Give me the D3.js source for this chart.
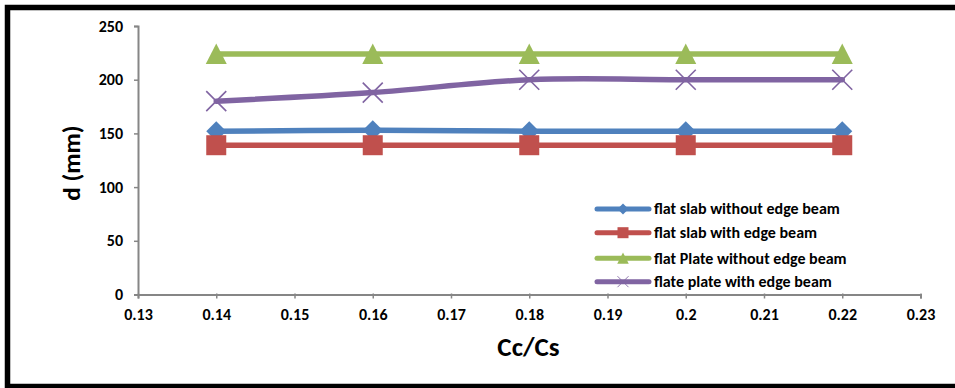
<!DOCTYPE html>
<html><head><meta charset="utf-8">
<script src="https://cdn.jsdelivr.net/npm/d3@7"></script>
<style>body{margin:0;background:#fff;overflow:hidden;} text{font-family:Carlito,Calibri,"Open Sans","Liberation Sans",sans-serif;font-weight:bold;}</style>
</head><body><svg id="c" width="955" height="388"></svg>
<script>
const xValues = [0.14, 0.16, 0.18, 0.2, 0.22];
const seriesNames = ["flat slab without edge beam","flat slab with edge beam","flat Plate without edge beam","flate plate with edge beam"];
const flatSlabNoBeam = [152, 153, 152, 152, 152];
const flatSlabBeam = [139, 139, 139, 139, 139];
const flatPlateNoBeam = [224, 224, 224, 224, 224];
const flatPlateBeam = [180, 188, 200, 200, 200];
const xTicks = [0.13,0.14,0.15,0.16,0.17,0.18,0.19,0.2,0.21,0.22,0.23];
const yTicks = [0,50,100,150,200,250];
const colors = ["#4F81BD","#C0504D","#9BBB59","#8064A2"];
const markers = ["diamond","square","triangle","x"];
const seriesData = [flatSlabNoBeam, flatSlabBeam, flatPlateNoBeam, flatPlateBeam];

const svg = d3.select("#c");
svg.append("rect").attr("x",7.5).attr("y",7.5).attr("width",970).attr("height",379)
  .attr("fill","#fff").attr("stroke","#000").attr("stroke-width",5.5);

const x = d3.scaleLinear().domain([0.13,0.23]).range([138,920.5]);
const y = d3.scaleLinear().domain([0,250]).range([294.5,26]);

const gx = svg.append("g").attr("transform","translate(0,294.5)")
  .call(d3.axisBottom(x).tickValues(xTicks).tickSize(4).tickFormat(d=>d3.format("")(+d.toFixed(2))));
const gy = svg.append("g").attr("transform","translate(138,0)")
  .call(d3.axisLeft(y).tickValues(yTicks).tickSize(4));
[gx,gy].forEach(g=>{
  g.select(".domain").attr("stroke","#868686").attr("stroke-width",2);
  g.selectAll(".tick line").attr("stroke","#868686").attr("stroke-width",1.5);
  g.selectAll("text").attr("fill","#000").attr("font-size",16).style("font-weight","bold");
});
gx.selectAll(".tick line").attr("y1",-1).attr("y2",4);
gx.selectAll("text").attr("y",25).attr("dy",null);
gy.selectAll("text").attr("x",-15);

svg.append("text").attr("transform","translate(80,163) rotate(-90)").attr("text-anchor","middle")
  .attr("font-size",25).text("d (mm)");
svg.append("text").attr("x",528.5).attr("y",356).attr("text-anchor","middle")
  .attr("font-size",27).text("Cc/Cs");

const line = d3.line().x((d,i)=>x(xValues[i])).y(d=>y(d)).curve(d3.curveCardinal.tension(0));

function drawMarker(g, type, cx, cy, color, scale){
  scale = scale||1;
  if(type==="diamond"){
    const s=10*scale;
    g.append("path").attr("d",`M${cx},${cy-s}L${cx+s},${cy}L${cx},${cy+s}L${cx-s},${cy}Z`).attr("fill",color);
  } else if(type==="square"){
    const s=10*scale;
    g.append("rect").attr("x",cx-s).attr("y",cy-s).attr("width",2*s).attr("height",2*s).attr("fill",color);
  } else if(type==="triangle"){
    const s=10.5*scale;
    g.append("path").attr("d",`M${cx},${cy-s}L${cx+s},${cy+s*0.95}L${cx-s},${cy+s*0.95}Z`).attr("fill",color);
  } else {
    const s=10*scale;
    g.append("path").attr("d",`M${cx-s},${cy-s}L${cx+s},${cy+s}M${cx-s},${cy+s}L${cx+s},${cy-s}`)
      .attr("stroke",color).attr("stroke-width",1.6*scale).attr("fill","none");
  }
}

seriesData.forEach((vals,k)=>{
  const g = svg.append("g");
  g.append("path").datum(vals).attr("d",line).attr("fill","none").attr("stroke",colors[k])
    .attr("stroke-width",5.5).attr("stroke-linecap","round");
  vals.forEach((v,i)=>drawMarker(g, markers[k], x(xValues[i]), y(v), colors[k]));
});

// legend
const legY = [209,232.7,258.3,281.7];
seriesNames.forEach((n,k)=>{
  const g = svg.append("g");
  g.append("line").attr("x1",597).attr("x2",649).attr("y1",legY[k]).attr("y2",legY[k])
    .attr("stroke",colors[k]).attr("stroke-width",5).attr("stroke-linecap","round");
  drawMarker(g, markers[k], 623, legY[k], colors[k], 0.55);
  g.append("text").attr("x",654).attr("y",legY[k]).attr("dy","0.33em").attr("font-size",16).text(n);
});
</script></body></html>
